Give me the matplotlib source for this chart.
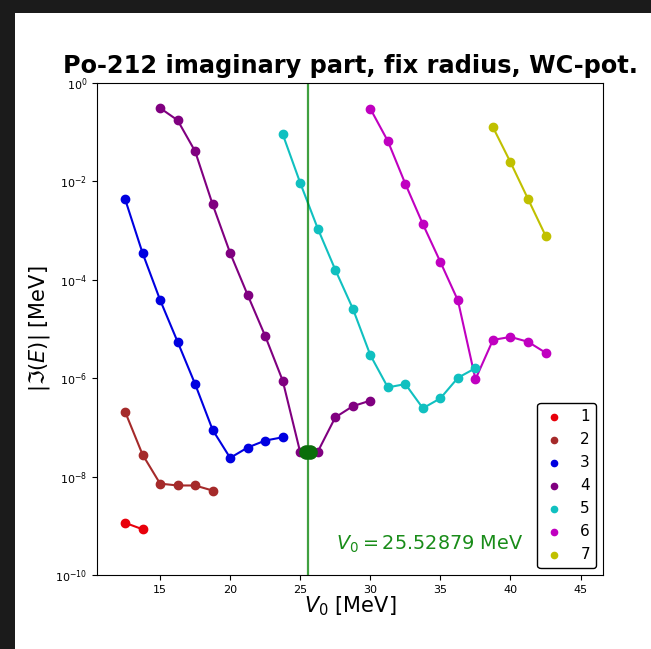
import numpy as np
import matplotlib
matplotlib.use('Agg')
import matplotlib.pyplot as plt
from matplotlib.patches import Rectangle
from matplotlib.ticker import NullLocator

# =============================================================================
# DATA
# =============================================================================

x1 = [12.5, 13.75]
y1 = [1.15e-9, 8.5e-10]

x2 = [12.5, 13.75, 15.0, 16.25, 17.5, 18.75]
y2 = [2.1e-7, 2.8e-8, 7.2e-9, 6.6e-9, 6.6e-9, 5.2e-9]

x3 = [12.5, 13.75, 15.0, 16.25, 17.5, 18.75, 20.0, 21.25, 22.5, 23.75]
y3 = [4.4e-3, 3.5e-4, 3.9e-5, 5.5e-6, 7.6e-7, 8.9e-8, 2.4e-8, 3.9e-8, 5.4e-8, 6.3e-8]

x4 = [15.0, 16.25, 17.5, 18.75, 20.0, 21.25, 22.5, 23.75, 25.0, 26.25, 27.5, 28.75, 30.0]
y4 = [0.31, 0.175, 0.041, 3.4e-3, 3.5e-4, 4.9e-5, 7.2e-6, 8.9e-7, 3.1e-8, 3.2e-8,
      1.6e-7, 2.7e-7, 3.5e-7]

x5 = [23.75, 25.0, 26.25, 27.5, 28.75, 30.0, 31.25, 32.5, 33.75, 35.0, 36.25, 37.5]
y5 = [0.091, 9.3e-3, 1.1e-3, 1.6e-4, 2.6e-5, 2.95e-6, 6.5e-7, 7.6e-7, 2.45e-7,
      3.9e-7, 1.02e-6, 1.6e-6]

x6 = [30.0, 31.25, 32.5, 33.75, 35.0, 36.25, 37.5, 38.75, 40.0, 41.25, 42.5]
y6 = [0.30, 0.066, 8.9e-3, 1.35e-3, 2.3e-4, 3.8e-5, 9.5e-7, 6.0e-6, 6.9e-6,
      5.5e-6, 3.3e-6]

x7 = [38.75, 40.0, 41.25, 42.5]
y7 = [0.126, 0.0245, 4.4e-3, 7.9e-4]

series_x = [x1, x2, x3, x4, x5, x6, x7]
series_y = [y1, y2, y3, y4, y5, y6, y7]
labels = ['1', '2', '3', '4', '5', '6', '7']
colors = ['#e8000b', '#a52a2a', '#0000e0', '#800080', '#10c0c0', '#c000c0', '#c0c000']

x_ticks = [15, 20, 25, 30, 35, 40, 45]
y_ticks = [1e-10, 1e-8, 1e-6, 1e-4, 1e-2, 1e0]

v0_crit = 25.52879
y_crit = 3.1e-8

# =============================================================================
# PLOT
# =============================================================================

fig = plt.figure(figsize=(6.51, 6.49), dpi=100, facecolor='#1b1b1b')
paper = Rectangle((15 / 651, 0), 1 - 15 / 651, 1 - 13 / 649,
                  transform=fig.transFigure, facecolor='white',
                  edgecolor='none', zorder=-10)
fig.add_artist(paper)

ax = fig.add_axes([97 / 651, 1 - 575 / 649, 506 / 651, 492 / 649])

for xs, ys, lab, col in zip(series_x, series_y, labels, colors):
    ax.plot(xs, ys, '-', color=col, lw=1.5)
    ax.scatter(xs, ys, color=col, s=36, label=lab, zorder=3)

ax.axvline(v0_crit, color='green', alpha=0.75, lw=1.6)
ax.scatter([v0_crit - 0.15, v0_crit + 0.15], [y_crit, y_crit], color='#0a6e0a',
           s=90, zorder=4)
ax.text(27.55, 3.3e-10, r'$V_0 = 25.52879$ MeV', color='green', fontsize=13.9,
        alpha=0.9)

ax.set_yscale('log')
ax.set_ylim(1e-10, 1)
ax.set_xlim(10.5, 46.6)
ax.set_yticks(y_ticks)
ax.yaxis.set_minor_locator(NullLocator())
ax.set_xticks(x_ticks)
ax.tick_params(labelsize=8)

ax.set_xlabel(r'$V_0$ [MeV]', fontsize=15, labelpad=0)
ax.set_ylabel(r'$|\Im(E)|$ [MeV]', fontsize=15, labelpad=2)
ax.set_title('Po-212 imaginary part, fix radius, WC-pot.', fontsize=17.3,
             fontweight='bold', pad=7)

leg = ax.legend(loc='lower right', fontsize=11, scatterpoints=1, markerscale=0.75,
                handlelength=1.4, handletextpad=1.0, borderpad=0.4,
                labelspacing=0.52, borderaxespad=0.45)
leg.get_frame().set_edgecolor('black')
leg.get_frame().set_alpha(1)

fig.savefig('out.png', dpi=100, facecolor=fig.get_facecolor())
